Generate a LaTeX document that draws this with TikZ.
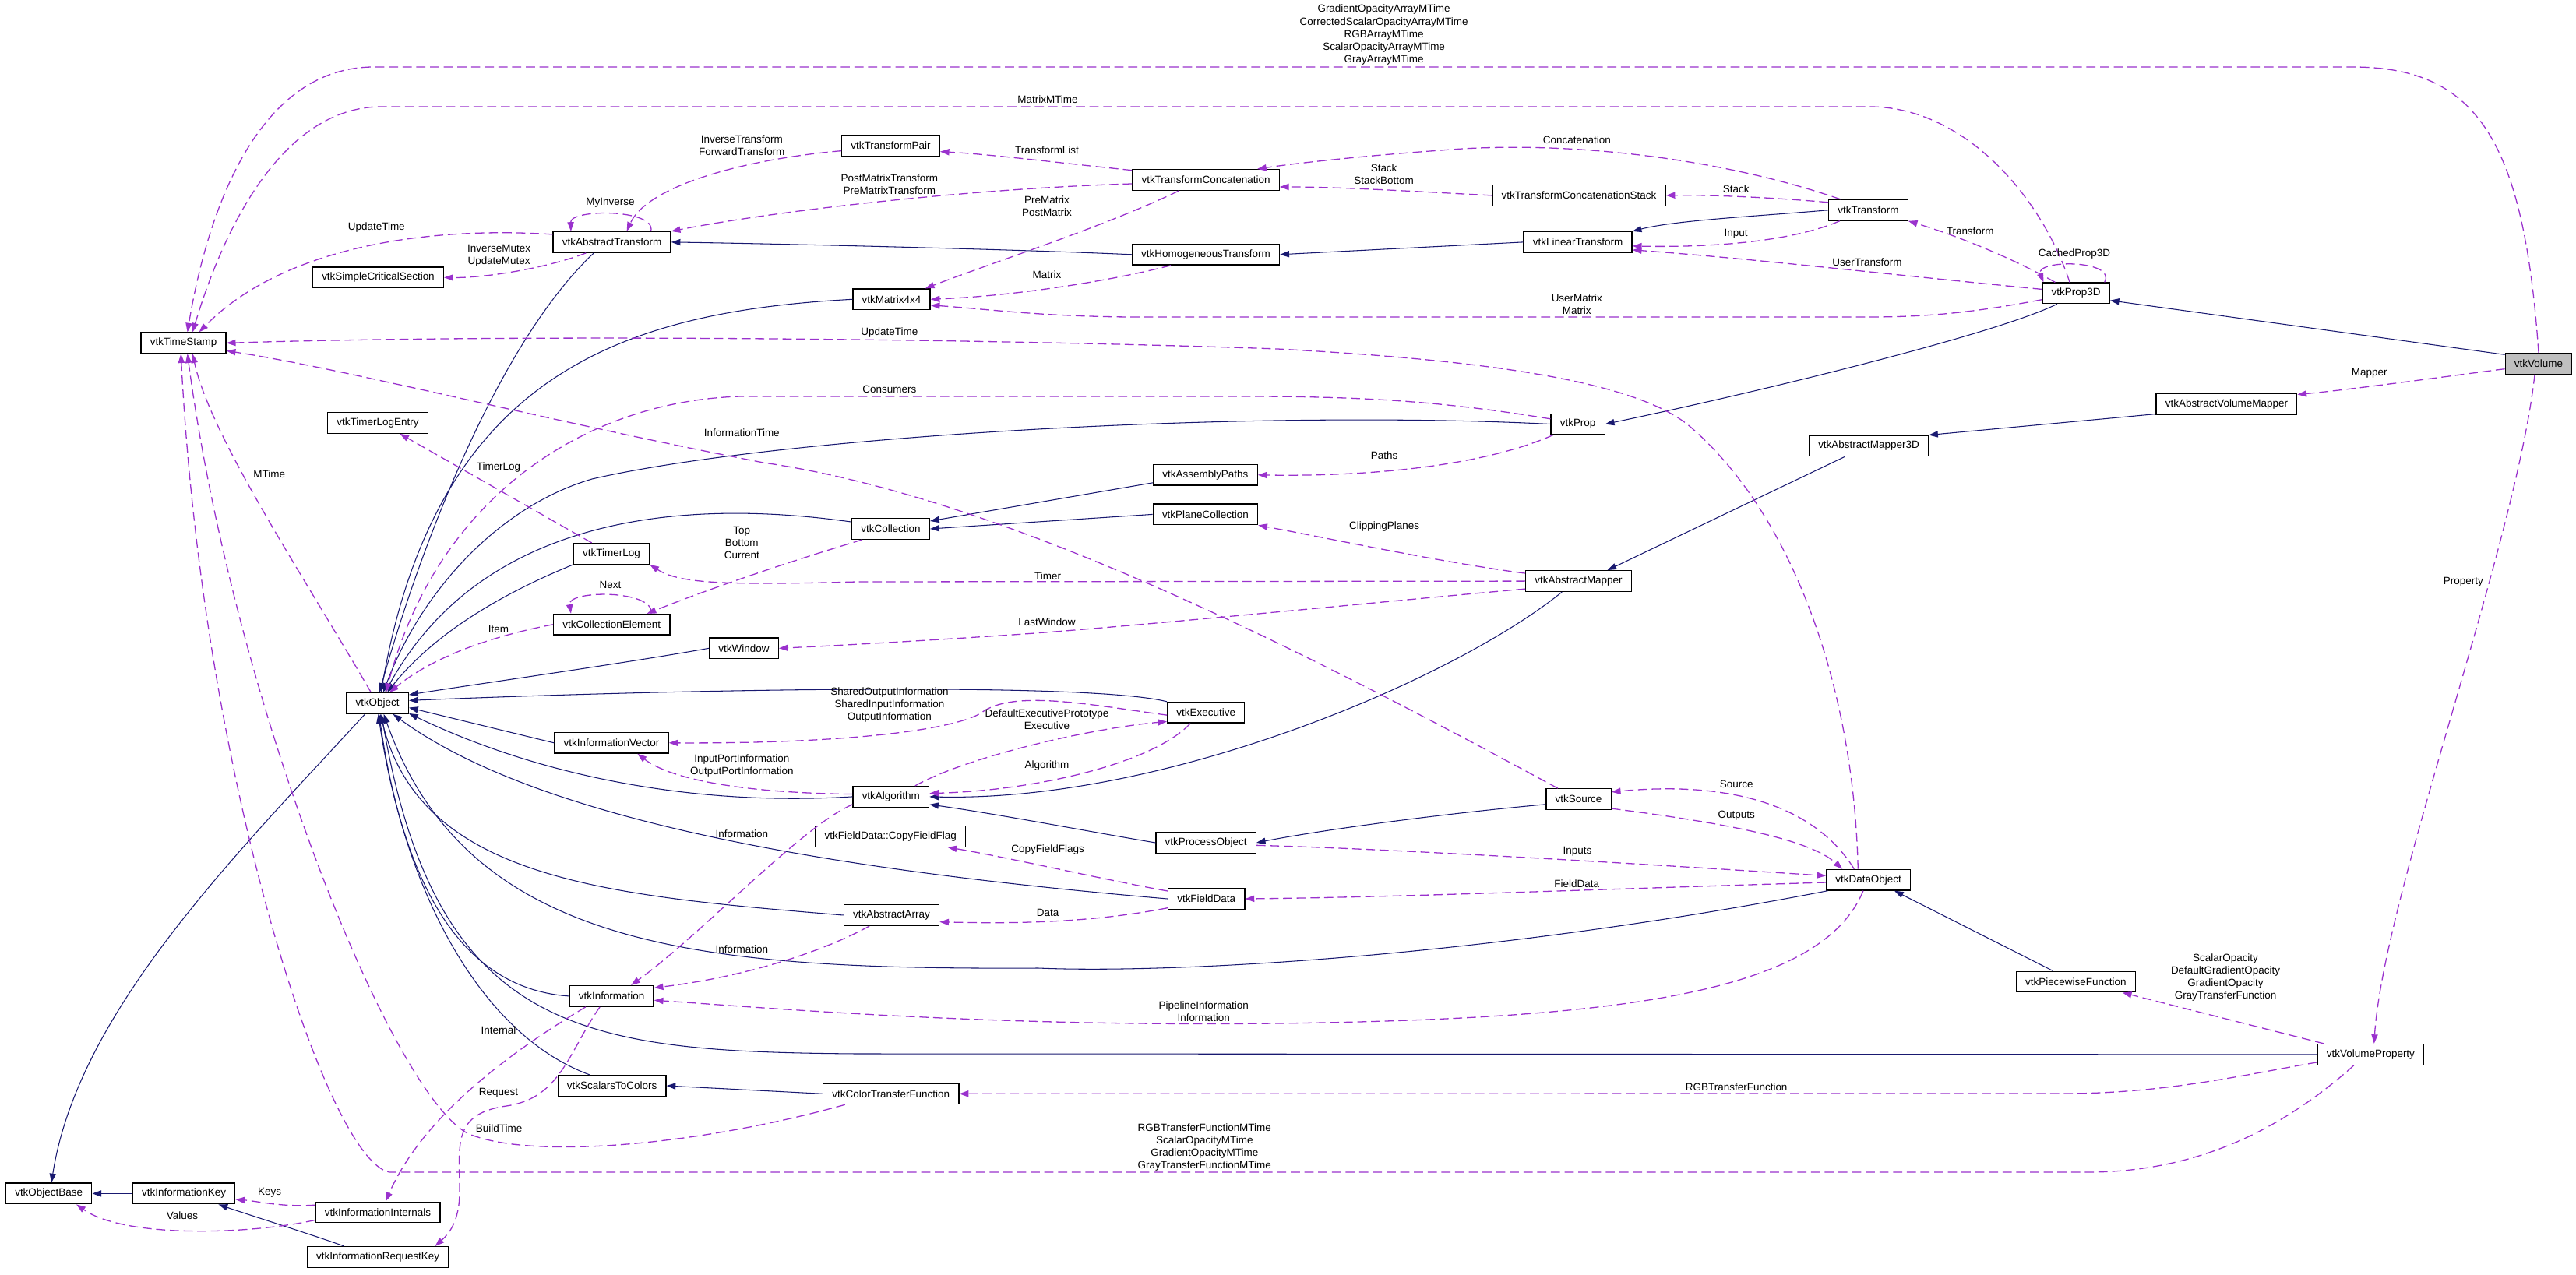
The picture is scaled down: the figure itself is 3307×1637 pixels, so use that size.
\documentclass[tikz,border=0pt]{standalone}
\usepackage{fontspec}
\setmainfont{Liberation Sans}
\usepackage{tikz}
\usetikzlibrary{arrows.meta, calc}
\definecolor{docnavy}{HTML}{191970}
\definecolor{docpurple}{HTML}{9A32CD}
\definecolor{docgray}{HTML}{BFBFBF}
\newcommand{\dgfont}{\fontsize{11.5}{13.7}\selectfont}
\tikzstyle{cls} = [rectangle, draw=black, line width=1.1pt, minimum height=0.8cm, inner xsep=10pt, inner ysep=2pt, font=\dgfont]
\tikzstyle{maincls} = [cls, fill=docgray]
\tikzstyle{lbl} = [align=center, inner sep=0pt, font=\dgfont]
\tikzstyle{inhedge} = [draw=docnavy, line width=0.9pt, -{Triangle[length=10pt,width=7pt]}]
\tikzstyle{useedge} = [draw=docpurple, line width=1.1pt, dash pattern=on 10pt off 5pt, -{Triangle[length=10pt,width=7pt]}]

\begin{document}
\begin{tikzpicture}[x=0.03cm, y=-0.03cm]
\useasboundingbox (0,0) rectangle (3307,1637);

\node (vol) [maincls] at (3259,467) {vtkVolume};
\node (prop3d) [cls] at (2665,376.4) {vtkProp3D};
\node (avm) [cls] at (2858.4,518.8) {vtkAbstractVolumeMapper};
\node (am3d) [cls] at (2399,572.5) {vtkAbstractMapper3D};
\node (prop) [cls] at (2025.6,544.5) {vtkProp};
\node (xform) [cls] at (2398.4,269.8) {vtkTransform};
\node (tcstack) [cls] at (2027,250.9) {vtkTransformConcatenationStack};
\node (lxform) [cls] at (2025.6,310.9) {vtkLinearTransform};
\node (tconcat) [cls] at (1548,231) {vtkTransformConcatenation};
\node (hxform) [cls] at (1548,326.8) {vtkHomogeneousTransform};
\node (tpair) [cls] at (1143.5,187) {vtkTransformPair};
\node (absxform) [cls] at (785.6,310.9) {vtkAbstractTransform};
\node (matrix) [cls] at (1144.5,384.3) {vtkMatrix4x4};
\node (critsec) [cls] at (485.5,356.3) {vtkSimpleCriticalSection};
\node (tstamp) [cls] at (235.6,440.4) {vtkTimeStamp};
\node (tlentry) [cls] at (485,542.9) {vtkTimerLogEntry};
\node (timerlog) [cls] at (785,710.9) {vtkTimerLog};
\node (collelem) [cls] at (785.3,801.8) {vtkCollectionElement};
\node (object) [cls] at (484.6,902.9) {vtkObject};
\node (infovec) [cls] at (785,953.8) {vtkInformationVector};
\node (asmpaths) [cls] at (1547.4,609.8) {vtkAssemblyPaths};
\node (planecoll) [cls] at (1547.4,660.4) {vtkPlaneCollection};
\node (collection) [cls] at (1143.5,679) {vtkCollection};
\node (window) [cls] at (955,832.3) {vtkWindow};
\node (executive) [cls] at (1548.2,914.8) {vtkExecutive};
\node (algorithm) [cls] at (1143.8,1022.9) {vtkAlgorithm};
\node (copyflag) [cls] at (1143.2,1073.9) {vtkFieldData::CopyFieldFlag};
\node (procobj) [cls] at (1548.1,1082) {vtkProcessObject};
\node (absmapper) [cls] at (2026.5,746.1) {vtkAbstractMapper};
\node (source) [cls] at (2026.5,1026.1) {vtkSource};
\node (information) [cls] at (785.1,1278.9) {vtkInformation};
\node (scal2col) [cls] at (785.6,1394) {vtkScalarsToColors};
\node (objbase) [cls] at (62.7,1532.4) {vtkObjectBase};
\node (infokey) [cls] at (236.1,1532.4) {vtkInformationKey};
\node (infointern) [cls] at (485,1556.5) {vtkInformationInternals};
\node (inforeqkey) [cls] at (485.2,1614) {vtkInformationRequestKey};
\node (fielddata) [cls] at (1548.7,1154) {vtkFieldData};
\node (absarray) [cls] at (1144.5,1175) {vtkAbstractArray};
\node (colortf) [cls] at (1143.8,1404.3) {vtkColorTransferFunction};
\node (dataobj) [cls] at (2398.6,1129.7) {vtkDataObject};
\node (piecewise) [cls] at (2664.8,1260.5) {vtkPiecewiseFunction};
\node (volprop) [cls] at (3043.4,1353.9) {vtkVolumeProperty};

\draw [inhedge] (vol.165) -- (prop3d.-12);
\draw [inhedge] (prop3d.-150) .. controls (2560,430) and (2250,505) .. (prop.east);
\draw [inhedge] (prop.west) .. controls (1600,525) and (1000,560) .. (760,615) .. controls (640,650) and (540,760) .. (object.62);
\draw [inhedge] (avm.188) -- (am3d.north east);
\draw [inhedge] ([xshift=-0.93cm]am3d.south) -- ([xshift=1.11cm]absmapper.north);
\draw [inhedge] ([xshift=-0.64cm]absmapper.south) .. controls (1870,870) and (1500,1030) .. (algorithm.east);
\draw [inhedge] (xform.west) .. controls (2250,278) and (2150,283) .. (lxform.north east);
\draw [inhedge] (lxform.west) -- (hxform.east);
\draw [inhedge] (hxform.west) .. controls (1300,320) and (1000,313) .. (absxform.east);
\draw [inhedge] ([xshift=-0.7cm]absxform.south) .. controls (640,440) and (540,700) .. (object.80);
\draw [inhedge] (matrix.west) .. controls (800,400) and (560,480) .. (object.72);
\draw [inhedge] (collection.170) .. controls (880,640) and (620,660) .. (object.55);
\draw [inhedge] (timerlog.south west) .. controls (650,760) and (560,810) .. (object.48);
\draw [inhedge] ([yshift=-0.3cm]asmpaths.west) -- ([yshift=0.3cm]collection.east);
\draw [inhedge] (planecoll.west) -- (collection.east);
\draw [inhedge] (window.west) .. controls (800,852) and (600,880) .. (object.15);
\draw [inhedge] (executive.north west) .. controls (1400,876) and (900,884) .. (object.5);
\draw [inhedge] (infovec.west) -- (object.-8);
\draw [inhedge] (algorithm.west) .. controls (900,1035) and (700,1000) .. (object.-18);
\draw [inhedge] (procobj.west) .. controls (1400,1068) and (1280,1045) .. ([yshift=-0.3cm]algorithm.east);
\draw [inhedge] ([yshift=-0.2cm]source.west) .. controls (1850,1045) and (1700,1065) .. (procobj.east);
\draw [inhedge] (fielddata.west) .. controls (1100,1120) and (700,1060) .. (object.-35);
\draw [inhedge] (absarray.west) .. controls (780,1150) and (540,1130) .. (object.-75);
\draw [inhedge] (dataobj.-165) .. controls (1900,1230) and (1500,1250) .. (1333,1243) .. controls (900,1245) and (600,1220) .. (object.-60);
\draw [inhedge] (information.west) .. controls (600,1270) and (520,1150) .. (object.-82);
\draw [inhedge] (volprop.west) -- (1100,1353) .. controls (750,1350) and (560,1330) .. (object.-70);
\draw [inhedge] ([xshift=-0.85cm]scal2col.north) .. controls (620,1330) and (520,1150) .. (object.-86);
\draw [inhedge] (colortf.west) -- (scal2col.east);
\draw [inhedge] ([xshift=-0.88cm]piecewise.north) -- ([xshift=1cm]dataobj.south);
\draw [inhedge] ([xshift=-0.48cm]object.south) .. controls (300,1100) and (100,1300) .. ([xshift=0.1cm]objbase.north);
\draw [inhedge] (infokey.west) -- (objbase.east);
\draw [inhedge] ([xshift=-1.3cm]inforeqkey.north) .. controls (400,1585) and (320,1560) .. ([xshift=1.33cm]infokey.south);

\draw [useedge] (vol.north) .. controls (3240,180) and (3180,86) .. (3020,86) -- (480,86) .. controls (340,86) and (270,250) .. ([xshift=0.15cm]tstamp.north);
\draw [useedge] ([xshift=-0.24cm]prop3d.north) .. controls (2620,250) and (2520,137) .. (2400,137) -- (490,137) .. controls (360,137) and (285,300) .. ([xshift=0.35cm]tstamp.north);
\draw [useedge] ([xshift=1.1cm]prop3d.north) .. controls (2718,333) and (2612,333) .. ([xshift=-1.25cm]prop3d.north);
\draw [useedge] ([xshift=-0.8cm]prop3d.north) .. controls (2590,335) and (2520,305) .. (xform.south east);
\draw [useedge] ([yshift=0.15cm]prop3d.west) .. controls (2450,355) and (2250,332) .. ([yshift=-0.3cm]lxform.east);
\draw [useedge] ([yshift=-0.25cm]prop3d.west) .. controls (2540,400) and (2480,407) .. (2400,407) -- (1450,407) .. controls (1330,406) and (1260,396) .. ([yshift=-0.23cm]matrix.east);
\draw [useedge] ([xshift=-0.4cm]dataobj.north) .. controls (2380,880) and (2300,660) .. (2170,548) .. controls (2100,488) and (1900,462) .. (1640,448) .. controls (1300,436) and (700,428) .. (tstamp.east);
\draw [useedge] ([yshift=0.3cm]xform.west) .. controls (2280,254) and (2200,250) .. (tcstack.east);
\draw [useedge] ([xshift=-1.07cm]xform.north) .. controls (2200,200) and (2000,180) .. (1850,193) .. controls (1750,200) and (1660,210) .. ([xshift=1.98cm]tconcat.north);
\draw [useedge] ([xshift=-1.1cm]xform.south) .. controls (2300,310) and (2200,318) .. ([yshift=-0.15cm]lxform.east);
\draw [useedge] (tcstack.west) .. controls (1820,246) and (1720,240) .. ([yshift=-0.27cm]tconcat.east);
\draw [useedge] ([yshift=0.37cm]tconcat.west) .. controls (1350,208) and (1270,198) .. ([yshift=-0.23cm]tpair.east);
\draw [useedge] ([yshift=-0.15cm]tconcat.west) .. controls (1250,242) and (1000,270) .. (absxform.north east);
\draw [useedge] ([xshift=-1.04cm]tconcat.south) .. controls (1420,290) and (1280,335) .. ([xshift=1.3cm]matrix.north);
\draw [useedge] ([xshift=-1.35cm]hxform.south) .. controls (1420,362) and (1300,380) .. (matrix.east);
\draw [useedge] ([xshift=1.5cm]absxform.north) .. controls (843,268) and (732,268) .. ([xshift=-1.58cm]absxform.north);
\draw [useedge] ([yshift=-0.2cm]tpair.west) .. controls (950,205) and (830,240) .. ([xshift=0.57cm]absxform.north);
\draw [useedge] ([yshift=0.3cm]absxform.west) .. controls (540,290) and (360,320) .. ([xshift=0.6cm]tstamp.north);
\draw [useedge] ([xshift=-1cm]absxform.south) .. controls (700,345) and (620,357) .. (critsec.east);
\draw [useedge] ([xshift=-0.76cm]timerlog.north) -- ([xshift=0.85cm]tlentry.south);
\draw [useedge] ([xshift=-0.25cm]object.north) .. controls (390,740) and (270,560) .. ([xshift=0.35cm]tstamp.south);
\draw [useedge] ([xshift=-1.77cm]colortf.south) .. controls (900,1470) and (680,1490) .. (600,1455) .. controls (500,1400) and (300,900) .. ([xshift=0.15cm]tstamp.south);
\draw [useedge] ([xshift=-0.65cm]volprop.south) .. controls (2930,1450) and (2820,1505) .. (2680,1505) -- (500,1505) .. controls (420,1490) and (260,1000) .. ([xshift=-0.1cm]tstamp.south);
\draw [useedge] ([xshift=-0.8cm]source.north) .. controls (1700,850) and (1300,640) .. (980,594) .. controls (700,540) and (450,475) .. ([yshift=-0.3cm]tstamp.east);
\draw [useedge] ([xshift=-0.95cm]prop.south) .. controls (1900,600) and (1750,612) .. (asmpaths.east);
\draw [useedge] ([yshift=0.2cm]prop.west) .. controls (1850,515) and (1750,509) .. (1600,509) -- (950,509) .. controls (750,515) and (560,640) .. (object.52);
\draw [useedge] ([yshift=0.3cm]absmapper.west) .. controls (1850,722) and (1700,690) .. (planecoll.south east);
\draw [useedge] (absmapper.west) -- (1100,747) .. controls (920,752) and (870,748) .. (timerlog.south east);
\draw [useedge] ([yshift=-0.3cm]absmapper.west) .. controls (1800,770) and (1450,805) .. (1300,815) .. controls (1150,825) and (1050,830) .. (window.east);
\draw [useedge] ([xshift=-1.1cm]collection.south) .. controls (1000,725) and (900,760) .. ([xshift=1.36cm]collelem.north);
\draw [useedge] ([xshift=1.52cm]collelem.north) .. controls (841,757) and (728,757) .. ([xshift=-1.57cm]collelem.north);
\draw [useedge] (collelem.west) .. controls (640,815) and (560,840) .. (object.42);
\draw [useedge] ([yshift=-0.1cm]executive.west) .. controls (1400,905) and (1300,885) .. (1260,915) .. controls (1230,935) and (1100,955) .. (infovec.east);
\draw [useedge] ([xshift=0.93cm]algorithm.north) .. controls (1240,972) and (1400,935) .. ([yshift=-0.35cm]executive.west);
\draw [useedge] ([xshift=-0.6cm]executive.south) .. controls (1480,980) and (1330,1015) .. ([yshift=0.13cm]algorithm.east);
\draw [useedge] ([yshift=0.1cm]algorithm.west) .. controls (950,1018) and (860,1000) .. ([xshift=1cm]infovec.south);
\draw [useedge] ([yshift=-0.3cm]algorithm.west) .. controls (1030,1060) and (900,1200) .. ([xshift=0.75cm]information.north);
\draw [useedge] ([yshift=-0.1cm]procobj.east) .. controls (1800,1090) and (2150,1112) .. ([yshift=0.16cm]dataobj.west);
\draw [useedge] ([xshift=-0.55cm]dataobj.north) .. controls (2340,1050) and (2250,1000) .. ([yshift=0.28cm]source.east);
\draw [useedge] ([yshift=-0.36cm]source.east) .. controls (2200,1055) and (2320,1075) .. ([xshift=-1cm]dataobj.north);
\draw [useedge] ([yshift=0.3cm]fielddata.west) .. controls (1420,1130) and (1290,1100) .. ([xshift=2.2cm]copyflag.south);
\draw [useedge] ([yshift=-0.1cm]dataobj.west) .. controls (2100,1140) and (1800,1152) .. (fielddata.east);
\draw [useedge] ([yshift=-0.35cm]fielddata.west) .. controls (1400,1185) and (1300,1186) .. ([yshift=-0.26cm]absarray.east);
\draw [useedge] ([xshift=-0.85cm]absarray.south) .. controls (1050,1225) and (950,1255) .. ([yshift=0.32cm]information.east);
\draw [useedge] ([xshift=-0.2cm]dataobj.south) .. controls (2340,1270) and (2100,1305) .. (1700,1313) .. controls (1300,1321) and (1000,1295) .. ([yshift=-0.16cm]information.east);
\draw [useedge] ([xshift=-1cm]information.south) .. controls (640,1360) and (540,1440) .. ([xshift=0.3cm]infointern.north);
\draw [useedge] ([xshift=-0.45cm]information.south) .. controls (730,1350) and (720,1410) .. (650,1420) .. controls (580,1430) and (590,1470) .. (590,1530) .. controls (590,1570) and (575,1585) .. ([xshift=2.2cm]inforeqkey.north);
\draw [useedge] ([yshift=0.28cm]infointern.west) .. controls (360,1550) and (330,1542) .. ([yshift=-0.23cm]infokey.east);
\draw [useedge] ([yshift=-0.3cm]infointern.west) .. controls (320,1585) and (160,1590) .. ([xshift=1.06cm]objbase.south);
\draw [useedge] ([yshift=-0.2cm]vol.west) .. controls (3150,482) and (3020,500) .. ([yshift=0.37cm]avm.east);
\draw [useedge] ([xshift=-0.15cm]vol.south) .. controls (3230,700) and (3060,1150) .. ([xshift=0.13cm]volprop.north);
\draw [useedge] ([xshift=-1.8cm]volprop.north) -- ([xshift=1.8cm]piecewise.south);
\draw [useedge] ([yshift=-0.3cm]volprop.west) .. controls (2880,1380) and (2780,1404) .. (2650,1404) -- (colortf.east);

\node (lvolts) [lbl] at (1776.6,44.6) {GradientOpacityArrayMTime\\CorrectedScalarOpacityArrayMTime\\RGBArrayMTime\\ScalarOpacityArrayMTime\\GrayArrayMTime};
\node (lmatmt) [lbl] at (1345,127.5) {MatrixMTime};
\node (lcached) [lbl] at (2663,326) {CachedProp3D};
\node (ltransform) [lbl] at (2529.2,296.8) {Transform};
\node (lusertf) [lbl] at (2397,336.8) {UserTransform};
\node (lusermat) [lbl] at (2024.3,390.9) {UserMatrix\\Matrix};
\node (lupdobj) [lbl] at (1141.9,426.8) {UpdateTime};
\node (lstack) [lbl] at (2228.7,242.9) {Stack};
\node (lconcat) [lbl] at (2024.3,179.6) {Concatenation};
\node (linput) [lbl] at (2228.7,300) {Input};
\node (lstackb) [lbl] at (1776.6,223.7) {Stack\\StackBottom};
\node (ltlist) [lbl] at (1344,192.9) {TransformList};
\node (lpostpre) [lbl] at (1141.9,236.6) {PostMatrixTransform\\PreMatrixTransform};
\node (lprepost) [lbl] at (1344,264.9) {PreMatrix\\PostMatrix};
\node (lmatrix) [lbl] at (1344,352.9) {Matrix};
\node (lmyinv) [lbl] at (783.5,260) {MyInverse};
\node (linvfwd) [lbl] at (952.3,186.6) {InverseTransform\\ForwardTransform};
\node (lupdxf) [lbl] at (483.3,291.8) {UpdateTime};
\node (lmutex) [lbl] at (640.6,328.7) {InverseMutex\\UpdateMutex};
\node (ltimerlog) [lbl] at (640,600) {TimerLog};
\node (lmtime) [lbl] at (345.7,608.6) {MTime};
\node (lbuild) [lbl] at (640.6,1448.7) {BuildTime};
\node (lrgbmt) [lbl] at (1546.3,1472.7) {RGBTransferFunctionMTime\\ScalarOpacityMTime\\GradientOpacityMTime\\GrayTransferFunctionMTime};
\node (linfotime) [lbl] at (952.3,555.5) {InformationTime};
\node (lpaths) [lbl] at (1777.1,584.6) {Paths};
\node (lconsumers) [lbl] at (1141.9,499.6) {Consumers};
\node (lclip) [lbl] at (1777.1,675.7) {ClippingPlanes};
\node (ltimer) [lbl] at (1345.1,739.6) {Timer};
\node (llastwin) [lbl] at (1344,798.6) {LastWindow};
\node (ltopbot) [lbl] at (952.3,696.8) {Top\\Bottom\\Current};
\node (lnext) [lbl] at (783.5,750.5) {Next};
\node (litem) [lbl] at (640,807.9) {Item};
\node (lshared) [lbl] at (1141.9,904.6) {SharedOutputInformation\\SharedInputInformation\\OutputInformation};
\node (ldefexec) [lbl] at (1344,923.75) {DefaultExecutivePrototype\\Executive};
\node (lalgo) [lbl] at (1344,982.9) {Algorithm};
\node (lportinfo) [lbl] at (952.3,982.6) {InputPortInformation\\OutputPortInformation};
\node (lalginfo) [lbl] at (952.3,1070.7) {Information};
\node (linputs) [lbl] at (2024.9,1092.9) {Inputs};
\node (lsource) [lbl] at (2229.2,1006.4) {Source};
\node (loutputs) [lbl] at (2229.2,1047.5) {Outputs};
\node (lcff) [lbl] at (1345.1,1091) {CopyFieldFlags};
\node (lfdata) [lbl] at (2024.3,1134.7) {FieldData};
\node (ldata) [lbl] at (1345.1,1171.7) {Data};
\node (laainfo) [lbl] at (952.3,1218.5) {Information};
\node (lpipe) [lbl] at (1545.2,1298.7) {PipelineInformation\\Information};
\node (linternal) [lbl] at (640,1323) {Internal};
\node (lrequest) [lbl] at (640,1402.9) {Request};
\node (lkeys) [lbl] at (346.2,1531.2) {Keys};
\node (lvalues) [lbl] at (234,1561) {Values};
\node (lmapper) [lbl] at (3041.8,479.6) {Mapper};
\node (lprop) [lbl] at (3162.3,746.8) {Property};
\node (lopac) [lbl] at (2857,1254.6) {ScalarOpacity\\DefaultGradientOpacity\\GradientOpacity\\GrayTransferFunction};
\node (lrgbtf) [lbl] at (2229.2,1395.8) {RGBTransferFunction};
\end{tikzpicture}
\end{document}
